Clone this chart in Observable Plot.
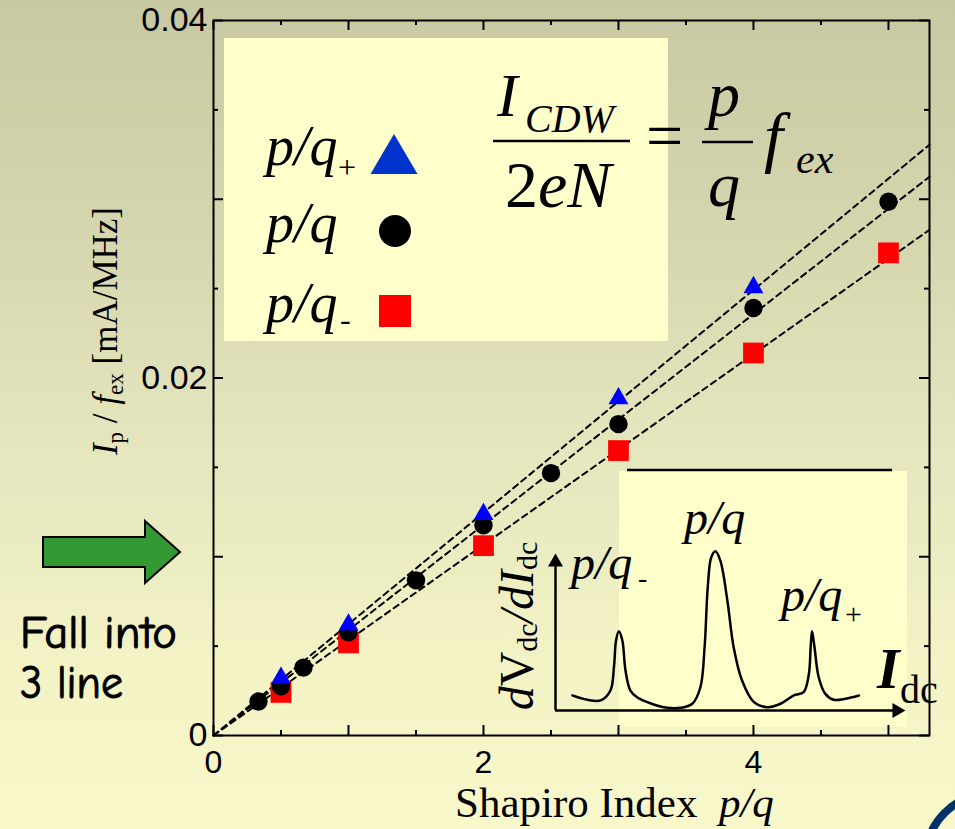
<!DOCTYPE html>
<html><head><meta charset="utf-8">
<script src="https://cdn.jsdelivr.net/npm/d3@7"></script>
<script src="https://cdn.jsdelivr.net/npm/@observablehq/plot@0.6"></script>
<style>
html,body{margin:0;padding:0;background:#f8f8cb;}
#wrap{position:relative;width:955px;height:829px;overflow:hidden;
 background:linear-gradient(to bottom,#c8c8a2 0%,#d6d6af 30%,#e6e6bf 55%,#f2f2c5 78%,#f8f8cb 100%);}
.abs{position:absolute;left:0;top:0;}
.box{position:absolute;background:#ffffcc;}
</style></head><body>
<div id="wrap">
  <div class="box" style="left:224px;top:38px;width:444px;height:303px;"></div>
  <div class="box" style="left:619px;top:471px;width:288px;height:256px;"></div>
</div>
<script>
// ---------- data ----------
const shapiroCenter = [1/3, 0.5, 2/3, 1, 1.5, 2, 2.5, 3, 4, 5];
const ipCenter      = [0.0019, 0.00275, 0.0038, 0.00577, 0.00868, 0.01176, 0.01468, 0.01742, 0.02392, 0.02986];
const shapiroPlus   = [0.5, 1, 2, 3, 4];
const ipPlus        = [0.00322, 0.00619, 0.01238, 0.01885, 0.02507];
const shapiroMinus  = [0.5, 1, 2, 3, 4, 5];
const ipMinus       = [0.00241, 0.00518, 0.01062, 0.01594, 0.0214, 0.0270];
const fitNames      = ["p/q+", "p/q", "p/q-"];
const fitEndX       = [5.304, 5.304, 5.304];
const fitEndY       = [0.03305, 0.03126, 0.02829];
const xMajorTicks   = [0, 1, 2, 3, 4, 5];
const xMinorTicks   = [0.5, 1.5, 2.5, 3.5, 4.5];
const yMajorTicks   = [0, 0.01, 0.02, 0.03, 0.04];
const yMinorTicks   = [0.005, 0.015, 0.025, 0.035];
const xTickValues   = [0, 2, 4];
const xTickLabels   = ["0", "2", "4"];
const yTickValues   = [0, 0.02, 0.04];
const yTickLabels   = ["0", "0.02", "0.04"];
// inset dV/dI vs I_dc (arbitrary units)
const insetCurrent = [4.8, 9.1, 12.9, 15.7, 16.7, 17.3, 18.1, 19.1, 20.0, 21.4, 23.3, 27.1, 31.9, 35.7, 39.1, 41.4, 42.6, 43.5, 44.5, 45.7, 47.1, 49.1, 50.9, 53.3, 56.7, 60.5, 64.3, 68.1, 70.9, 72.4, 72.9, 73.3, 74.0, 75.2, 77.1, 79.5, 82.9, 86.7];
const insetDvdi    = [9.6, 6.8, 6.4, 12.7, 27.6, 44.6, 50.5, 44.6, 25.5, 12.7, 8.5, 4.6, 1.7, 1.7, 4.3, 14.8, 40.3, 78.5, 97.6, 101.5, 95.5, 70.1, 40.3, 19.1, 5.3, 2.1, 4.3, 9.6, 11.7, 23.4, 40.3, 50.5, 40.3, 21.2, 10.6, 6.8, 7.5, 9.6];

// ---------- build ----------
const SERIF = "'Liberation Serif','Times New Roman',serif";
const SANS = "'Liberation Sans',Arial,sans-serif";
const centerData = shapiroCenter.map((x, i) => ({x, y: ipCenter[i]}));
const plusData = shapiroPlus.map((x, i) => ({x, y: ipPlus[i]}));
const minusData = shapiroMinus.map((x, i) => ({x, y: ipMinus[i]}));
const fitData = fitNames.flatMap((n, i) => [{n, x: 0, y: 0}, {n, x: fitEndX[i], y: fitEndY[i]}]);

const main = Plot.plot({
  width: 955, height: 829,
  marginLeft: 213, marginRight: 26, marginTop: 20, marginBottom: 94,
  style: {background: "none", overflow: "visible"},
  x: {domain: [0, 5.304], axis: null},
  y: {domain: [0, 0.04], axis: null},
  marks: [
    Plot.line(fitData, {x: "x", y: "y", z: "n", stroke: "black", strokeWidth: 2, strokeDasharray: "6,4.5"}),
    Plot.dot(minusData, {x: "x", y: "y", symbol: "square", r: 11.7, fill: "#ff0000"}),
    Plot.dot(centerData, {x: "x", y: "y", r: 9.2, fill: "black"}),
    Plot.dot(plusData, {x: "x", y: "y", symbol: "triangle", r: 7.4, fill: "#0000ff"}),
    // inward ticks
    Plot.tickX(xMajorTicks, {x: d => d, insetTop: 705, strokeWidth: 2}),
    Plot.tickX(xMinorTicks, {x: d => d, insetTop: 710, strokeWidth: 2}),
    Plot.tickX(xMajorTicks, {x: d => d, insetBottom: 705, strokeWidth: 2}),
    Plot.tickX(xMinorTicks, {x: d => d, insetBottom: 710, strokeWidth: 2}),
    Plot.tickY(yMajorTicks, {y: d => d, insetRight: 706, strokeWidth: 2}),
    Plot.tickY(yMinorTicks, {y: d => d, insetRight: 711, strokeWidth: 2}),
    Plot.tickY(yMajorTicks, {y: d => d, insetLeft: 706, strokeWidth: 2}),
    Plot.tickY(yMinorTicks, {y: d => d, insetLeft: 711, strokeWidth: 2}),
    Plot.frame({strokeWidth: 2}),
    Plot.text(xTickValues, {x: d => d, text: (d, i) => xTickLabels[i], frameAnchor: "bottom", lineAnchor: "top", dy: 15, fontSize: 32, fontFamily: SANS, fill: "black"}),
    Plot.text(yTickValues, {y: d => d, text: (d, i) => yTickLabels[i], frameAnchor: "left", textAnchor: "end", dx: -6, fontSize: 34, fontFamily: SANS, fill: "black"})
  ]
});
main.classList.add("abs");
document.getElementById("wrap").appendChild(main);

const curveData = insetCurrent.map((x, i) => ({x, y: insetDvdi[i]}));
const inset = Plot.plot({
  width: 955, height: 829,
  marginLeft: 555, marginRight: 50, marginTop: 553, marginBottom: 119,
  style: {background: "none", overflow: "visible"},
  x: {domain: [0, 100], axis: null},
  y: {domain: [0, 100], axis: null},
  marks: [
    Plot.line(curveData, {x: "x", y: "y", curve: "catmull-rom", stroke: "black", strokeWidth: 2.5}),
    Plot.ruleY([0], {x1: 0, x2: 97, stroke: "black", strokeWidth: 2.5}),
    Plot.ruleX([0], {y1: 0, y2: 95, stroke: "black", strokeWidth: 2.5}),
    Plot.dot([{x: 100, y: 0}], {x: "x", y: "y", symbol: "triangle", r: 5.6, rotate: 90, dx: -8.7, fill: "black"}),
    Plot.dot([{x: 0, y: 100}], {x: "x", y: "y", symbol: "triangle", r: 5.6, dy: 8.7, fill: "black"})
  ]
});
inset.classList.add("abs");
document.getElementById("wrap").appendChild(inset);

// ---------- annotations ----------
const ns = "http://www.w3.org/2000/svg";
const ov = document.createElementNS(ns, "svg");
ov.setAttribute("width", 955); ov.setAttribute("height", 829);
ov.setAttribute("class", "abs");
ov.innerHTML = `
<g font-family="${SERIF}" fill="black">
  <!-- y axis label -->
  <text transform="translate(117,331) rotate(-90)" text-anchor="middle" font-size="35" style="white-space:pre"><tspan font-style="italic">I</tspan><tspan font-size="23" dy="6">p</tspan><tspan dy="-6"> / </tspan><tspan font-style="italic">f</tspan><tspan font-size="23" dy="6">ex</tspan><tspan dy="-6"> [mA/MHz]</tspan></text>
  <!-- x axis label -->
  <text x="455" y="817" font-size="43" style="white-space:pre">Shapiro Index  <tspan font-style="italic">p/q</tspan></text>

  <!-- legend -->
  <text x="266" y="165" font-size="56" font-style="italic">p/q</text>
  <text x="338" y="178" font-size="32">+</text>
  <polygon points="394,134 370.5,174 417.5,174" fill="#0033cc"/>
  <text x="266" y="242" font-size="56" font-style="italic">p/q</text>
  <circle cx="395" cy="231" r="16" fill="black"/>
  <text x="266" y="322" font-size="56" font-style="italic">p/q</text>
  <text x="340" y="330" font-size="32">-</text>
  <rect x="379" y="295" width="32" height="32" fill="#ff0000"/>

  <!-- formula -->
  <text x="497" y="116" font-size="62" font-style="italic">I</text>
  <text x="525" y="132" font-size="40" font-style="italic">CDW</text>
  <line x1="493" y1="141" x2="630" y2="141" stroke="black" stroke-width="2.5"/>
  <text x="505" y="207" font-size="66">2<tspan font-style="italic">eN</tspan></text>
  <text x="646" y="158" font-size="66">=</text>
  <text x="708" y="116" font-size="64" font-style="italic">p</text>
  <line x1="702" y1="142" x2="753" y2="142" stroke="black" stroke-width="2.5"/>
  <text x="708" y="206" font-size="64" font-style="italic">q</text>
  <text x="764" y="160" font-size="68" font-style="italic">f</text>
  <text x="796" y="173" font-size="42" font-style="italic">ex</text>

  <!-- inset decorations -->
  <line x1="627" y1="470" x2="892" y2="470" stroke="black" stroke-width="2.5"/>
  <text x="684" y="534" font-size="48" font-style="italic">p/q</text>
  <text x="571" y="579" font-size="48" font-style="italic">p/q</text>
  <text x="638" y="587" font-size="28">-</text>
  <text x="781" y="611" font-size="48" font-style="italic">p/q</text>
  <text x="845" y="624" font-size="30">+</text>
  <text x="877" y="688" font-size="58" font-style="italic" font-weight="bold">I</text>
  <text x="900" y="703" font-size="40">dc</text>
  <text transform="translate(533,626) rotate(-90)" text-anchor="middle" font-size="48"><tspan font-style="italic">d</tspan>V<tspan font-size="30" dy="4">dc</tspan><tspan dy="-4" font-style="italic">/dI</tspan><tspan font-size="30" dy="4">dc</tspan></text>
</g>
<!-- arrow -->
<polygon points="43,537 145,537 145,521 180,552 145,583 145,567 43,567" fill="#339933" stroke="black" stroke-width="2"/>
<g font-family="'Comic Sans MS','Comic Neue',Lato,sans-serif" font-size="46" fill="black" stroke="black" stroke-width="1">
  <text x="20" y="648" textLength="157" lengthAdjust="spacingAndGlyphs">Fall into</text>
  <text x="20" y="698" textLength="103" lengthAdjust="spacingAndGlyphs">3 line</text>
</g>
<circle cx="990" cy="858" r="64" fill="none" stroke="#003366" stroke-width="8"/>
`;
document.getElementById("wrap").appendChild(ov);
</script>
</body></html>
